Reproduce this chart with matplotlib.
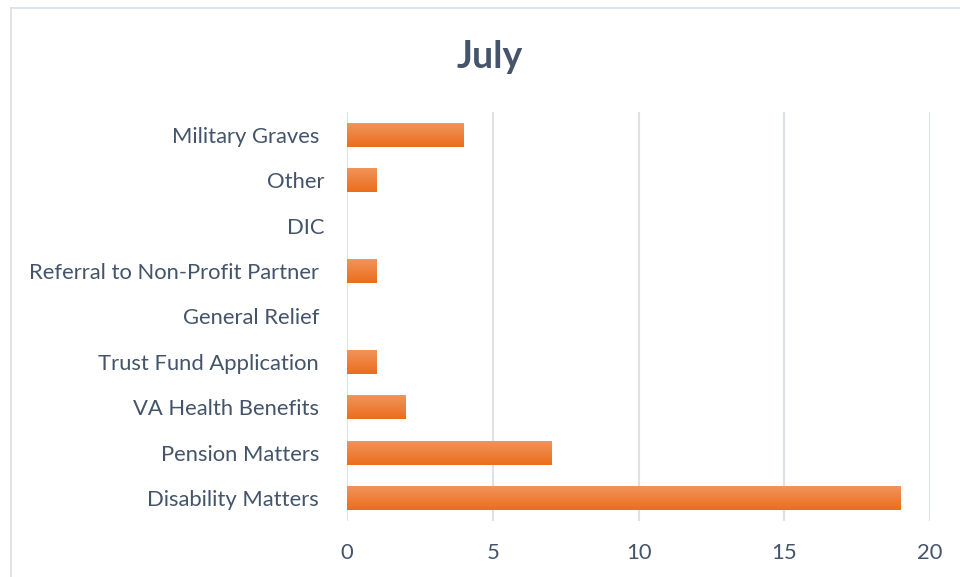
import matplotlib
matplotlib.use("Agg")
import matplotlib.pyplot as plt
import numpy as np
from matplotlib.colors import LinearSegmentedColormap
from matplotlib.lines import Line2D

categories = ["Disability Matters ", "Pension Matters ", "VA Health Benefits ",
              "Trust Fund Application ", "General Relief ", "Referral to Non-Profit Partner ",
              "DIC", "Other", "Military Graves "]
values = [19, 7, 2, 1, 0, 1, 0, 1, 4]
xticks = [0, 5, 10, 15, 20]
title = "July"

plt.rcParams['font.family'] = ['Lato', 'DejaVu Sans']
text_color = "#44546A"

fig = plt.figure(figsize=(9.6, 5.77), dpi=100)
ax = fig.add_axes([0.3615, 0.097, 0.96875 - 0.3615, 0.709])

y = np.arange(len(categories))
bars = ax.barh(y, values, height=0.53, color="#ED7D31", zorder=2)

cmap = LinearSegmentedColormap.from_list("g", ["#F2955E", "#EA6E1B"])
grad = np.linspace(0, 1, 64).reshape(-1, 1)
for b in bars:
    if b.get_width() <= 0:
        continue
    x0, y0 = b.get_x(), b.get_y()
    w, h = b.get_width(), b.get_height()
    im = ax.imshow(grad, cmap=cmap, aspect='auto', origin='lower',
                   extent=[x0, x0 + w, y0 + h, y0], zorder=3)
    im.set_clip_path(b)

ax.set_xlim(0, 20)
ax.set_ylim(-0.5, len(categories) - 0.5)
ax.set_xticks(xticks)
ax.set_yticks(y)
ax.set_yticklabels(categories)
ax.tick_params(axis='both', length=0, labelsize=15.8, colors=text_color)
ax.tick_params(axis='y', pad=16)
ax.tick_params(axis='x', pad=16)
ax.xaxis.grid(True, color="#DDE1E8", linewidth=1.5, zorder=0)
ax.set_axisbelow(True)
for s in ax.spines.values():
    s.set_visible(False)

fig.text(0.51, 0.902, title, ha='center', va='center', fontsize=27,
         fontweight='bold', color=text_color)

# chart border
fig.add_artist(Line2D([11/960, 1.0], [1 - 8/577, 1 - 8/577], transform=fig.transFigure,
                      color="#D9DEE6", linewidth=1.2))
fig.add_artist(Line2D([11/960, 11/960], [1 - 8/577, 0.0], transform=fig.transFigure,
                      color="#D9DEE6", linewidth=1.2))

fig.savefig("out.png", dpi=100)
